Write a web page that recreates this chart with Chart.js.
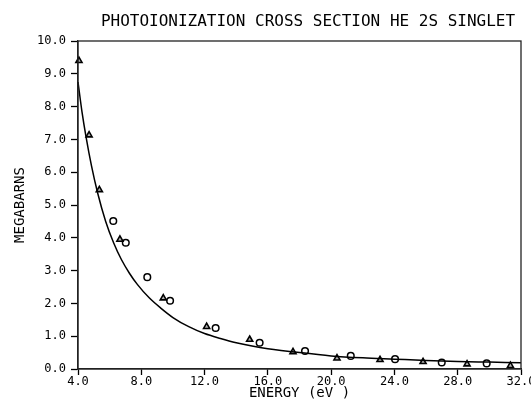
<!DOCTYPE html>
<html>
<head>
<meta charset="utf-8">
<script src="https://cdn.jsdelivr.net/npm/chart.js@4/dist/chart.umd.min.js"></script>
<style>
  body { margin: 0; background: #fff; }
  #wrap { width: 531px; height: 407px; }
</style>
</head>
<body>
<div id="wrap"><canvas id="chart" width="531" height="407"></canvas></div>
<script>
const triEnergy = [4.06, 4.70, 5.35, 6.65, 9.39, 12.13, 14.85, 17.59, 20.37, 23.09, 25.81, 28.59, 31.33];
const triMb     = [9.40, 7.13, 5.46, 3.95, 2.16, 1.29, 0.90, 0.52, 0.33, 0.28, 0.22, 0.15, 0.10];

const circEnergy = [6.23, 7.02, 8.38, 9.82, 12.70, 15.48, 18.35, 21.24, 24.04, 26.99, 29.83];
const circMb     = [4.51, 3.85, 2.80, 2.08, 1.25, 0.80, 0.55, 0.40, 0.30, 0.20, 0.17];

const curveEnergy = [4.0, 4.25, 4.5, 4.85, 5.25, 5.75, 6.25, 6.75, 7.25, 7.75, 8.5, 9.25, 10.0,
                     11.0, 12.0, 13.0, 14.0, 15.0, 16.0, 18.0, 20.0, 22.0, 24.0, 26.0, 28.0, 30.0, 32.0];
const curveMb     = [8.75, 7.85, 7.10, 6.20, 5.35, 4.50, 3.85, 3.33, 2.92, 2.58, 2.17, 1.85, 1.57,
                     1.29, 1.08, 0.93, 0.80, 0.70, 0.62, 0.50, 0.40, 0.34, 0.30, 0.26, 0.23, 0.21, 0.19];

const TITLE = 'PHOTOIONIZATION CROSS SECTION HE 2S SINGLET';
const FONT = '"DejaVu Sans Mono", "Liberation Mono", monospace';

const toXY = (xs, ys) => xs.map((x, i) => ({x: x, y: ys[i]}));

// frame around the plot + title
const framePlugin = {
    id: 'frame',
    afterDraw(chart) {
        const {ctx, chartArea: a} = chart;
        ctx.save();
        ctx.strokeStyle = '#222';
        ctx.lineWidth = 1.3;
        ctx.strokeRect(a.left, a.top, a.right - a.left, a.bottom - a.top);
        ctx.fillStyle = '#000';
        ctx.font = '16px ' + FONT;
        ctx.textAlign = 'center';
        ctx.textBaseline = 'middle';
        ctx.fillText(TITLE, 308, 22);
        ctx.restore();
    }
};

new Chart(document.getElementById('chart'), {
    type: 'scatter',
    data: {
        datasets: [
            {
                data: toXY(curveEnergy, curveMb),
                showLine: true,
                borderColor: '#000',
                borderWidth: 1.5,
                pointRadius: 0,
                cubicInterpolationMode: 'monotone',
                clip: false
            },
            {
                data: toXY(triEnergy, triMb),
                pointStyle: 'triangle',
                pointRadius: 3.5,
                borderColor: '#000',
                borderWidth: 1.6,
                backgroundColor: 'rgba(0,0,0,0.3)',
                clip: false
            },
            {
                data: toXY(circEnergy, circMb),
                pointStyle: 'circle',
                pointRadius: 3.3,
                borderColor: '#000',
                borderWidth: 1.5,
                backgroundColor: '#fff',
                clip: false
            }
        ]
    },
    options: {
        responsive: false,
        animation: false,
        layout: {padding: {top: 41, right: 10, left: 0, bottom: 0}},
        scales: {
            x: {
                type: 'linear',
                min: 4,
                max: 32,
                grid: {display: true, drawOnChartArea: false, drawTicks: true, tickLength: 6, tickColor: '#000', tickWidth: 1.3},
                border: {color: '#222', width: 1.3},
                ticks: {
                    stepSize: 4,
                    padding: 0,
                    color: '#000',
                    maxRotation: 0,
                    font: {family: FONT, size: 12},
                    callback: v => v.toFixed(1)
                },
                title: {
                    display: true,
                    text: 'ENERGY (eV )',
                    color: '#000',
                    font: {family: FONT, size: 14},
                    padding: {top: 0, bottom: 5}
                },
                afterFit(scale) {
                    scale.height = 38;
                    scale.paddingLeft = 0;
                    scale.paddingRight = 0;
                }
            },
            y: {
                type: 'linear',
                min: 0,
                max: 10,
                grid: {display: true, drawOnChartArea: false, drawTicks: true, tickLength: 7, tickColor: '#000', tickWidth: 1.3},
                border: {color: '#222', width: 1.3},
                ticks: {
                    stepSize: 1,
                    padding: 5,
                    color: '#000',
                    font: {family: FONT, size: 12},
                    callback: v => v.toFixed(1)
                },
                title: {
                    display: true,
                    text: 'MEGABARNS',
                    color: '#000',
                    font: {family: FONT, size: 14},
                    padding: {top: 12, bottom: 0}
                },
                afterFit(scale) {
                    scale.width = 78;
                    scale.paddingTop = 0;
                    scale.paddingBottom = 0;
                }
            }
        },
        plugins: {
            legend: {display: false},
            title: {display: false},
            tooltip: {enabled: false}
        }
    },
    plugins: [framePlugin]
});
</script>
</body>
</html>
